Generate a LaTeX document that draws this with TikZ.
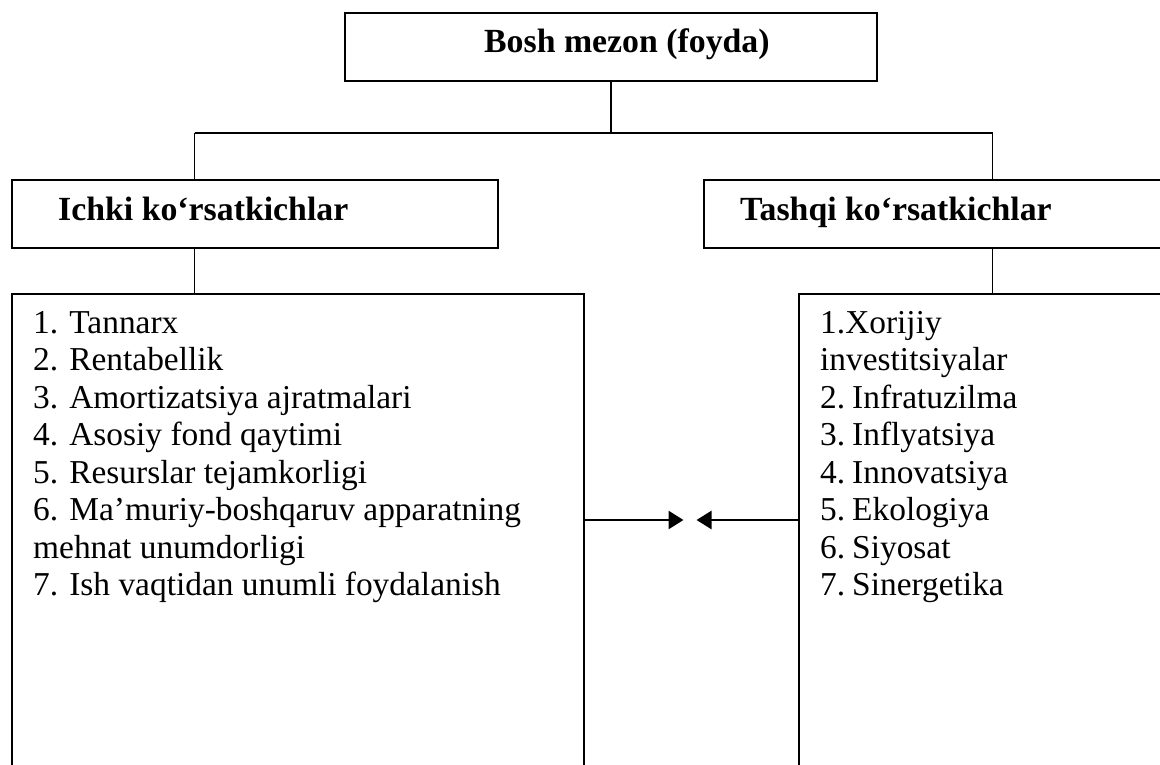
\documentclass[tikz,border=0pt]{standalone}
\usepackage{fontspec}
\setmainfont{Liberation Serif}
\usetikzlibrary{arrows.meta}
\begin{document}
\begin{tikzpicture}[x=1pt,y=-1pt,
  box/.style={draw, line width=2.2pt, inner sep=0pt},
  conn/.style={line width=1.4pt},
  arr/.style={line width=2.6pt, -{Triangle[length=15pt,width=18pt]}},
  head/.style={font=\fontsize{33.8}{36}\selectfont\bfseries, anchor=base west, inner sep=0pt},
  item/.style={font=\fontsize{33.4}{37.5}\selectfont, anchor=base west, inner sep=0pt}]
\useasboundingbox (0,0) rectangle (1160,765);
\clip (0,0) rectangle (1160,765);
% boxes
\node[box, minimum width=532, minimum height=68, anchor=north west] (top) at (344,12) {};
\node[box, minimum width=486, minimum height=68, anchor=north west] (ichki) at (11,179) {};
\node[box, minimum width=480, minimum height=68, anchor=north west] (tashqi) at (703,179) {};
\node[box, minimum width=572, minimum height=520, anchor=north west] (left) at (11,293) {};
\node[box, minimum width=400, minimum height=520, anchor=north west] (right) at (798,293) {};
% headings
\node[head] (ttop) at (484,53) {Bosh mezon (foyda)};
\node[head] (tichki) at (58,220) {Ichki ko‘rsatkichlar};
\node[head] (ttashqi) at (740,220) {Tashqi ko‘rsatkichlar};
% connectors
\coordinate (jl) at (194.5,133);
\coordinate (jr) at (992.6,133);
\draw[conn] (top.south) -- (top.south |- jl);
\draw[conn] (jl) -- (jr);
\draw[conn] (jl) -- (jl |- ichki.north);
\draw[conn] (jr) -- (jr |- tashqi.north);
\draw[conn] (jl |- ichki.south) -- (jl |- left.north);
\draw[conn] (jr |- tashqi.south) -- (jr |- right.north);
% arrows
\coordinate (ta) at (683.5,520);
\coordinate (tb) at (696.5,520);
\draw[arr] (left.east |- ta) -- (ta);
\draw[arr] (right.west |- tb) -- (tb);
% left list
\node[item] (l1) at (33,333) {1. Tannarx};
\node[item] (l2) at (33,370.5) {2. Rentabellik};
\node[item] (l3) at (33,408) {3. Amortizatsiya ajratmalari};
\node[item] (l4) at (33,445.5) {4. Asosiy fond qaytimi};
\node[item] (l5) at (33,483) {5. Resurslar tejamkorligi};
\node[item] (l6) at (33,520.5) {6. Ma’muriy-boshqaruv apparatning};
\node[item] (l7) at (33,558) {mehnat unumdorligi};
\node[item] (l8) at (33,595.5) {7. Ish vaqtidan unumli foydalanish};
% right list
\node[item] (r1) at (820,333) {1.Xorijiy};
\node[item] (r2) at (820,370.5) {investitsiyalar};
\node[item] (r3) at (820,408) {2.\hspace{7pt}Infratuzilma};
\node[item] (r4) at (820,445.5) {3.\hspace{7pt}Inflyatsiya};
\node[item] (r5) at (820,483) {4.\hspace{7pt}Innovatsiya};
\node[item] (r6) at (820,520.5) {5.\hspace{7pt}Ekologiya};
\node[item] (r7) at (820,558) {6.\hspace{7pt}Siyosat};
\node[item] (r8) at (820,595.5) {7.\hspace{7pt}Sinergetika};
\end{tikzpicture}
\end{document}
